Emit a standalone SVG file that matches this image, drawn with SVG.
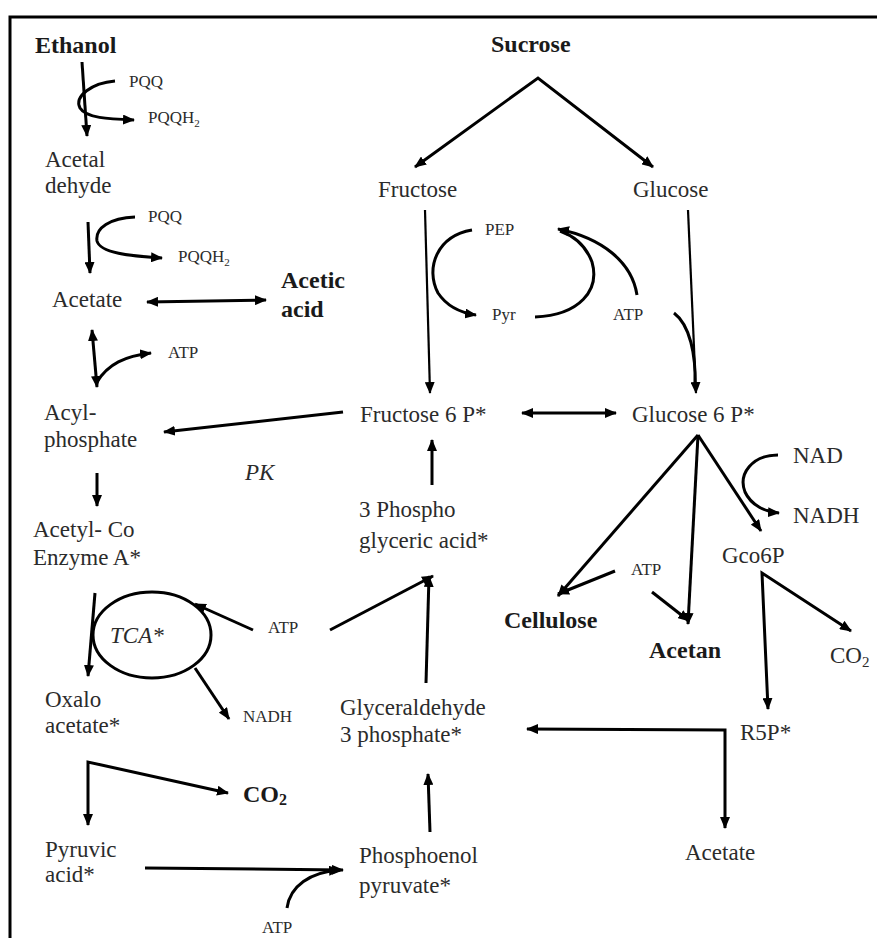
<svg xmlns="http://www.w3.org/2000/svg" width="877" height="938" viewBox="0 0 877 938">
<style>
text{font-family:"Liberation Serif","Times New Roman","DejaVu Serif",serif;fill:#2b2b2b}
.m{font-size:23px}
.b{font-size:24px;font-weight:bold;fill:#1a1a1a}
.s{font-size:17px}
.i{font-style:italic}
.c path,.c line,.c polyline{fill:none;stroke:#000;stroke-width:3}
.c .t{stroke-width:2.2}
.a{marker-end:url(#ah)}
.d{marker-start:url(#ah);marker-end:url(#ah)}
</style>
<defs>
<marker id="ah" viewBox="0 0 12 10" refX="11" refY="5" markerWidth="12" markerHeight="10" markerUnits="userSpaceOnUse" orient="auto-start-reverse"><path d="M0,0 L12,5 L0,10 z" fill="#000"/></marker>
</defs>
<rect width="877" height="938" fill="#fff"/>
<g id="frame" fill="none" stroke="#000" stroke-width="3"><polyline points="10,938 10,17 877,17"/></g>

<g id="n-ethanol"><text class="b" x="35" y="53">Ethanol</text></g>
<g id="n-pqq1"><text class="s" x="129" y="87">PQQ</text></g>
<g id="n-pqqh1"><text class="s" x="148" y="123">PQQH<tspan font-size="11" dy="4">2</tspan></text></g>
<g id="n-acetaldehyde"><text class="m" x="45" y="167">Acetal</text><text class="m" x="45" y="193">dehyde</text></g>
<g id="n-pqq2"><text class="s" x="148" y="222">PQQ</text></g>
<g id="n-pqqh2"><text class="s" x="178" y="262">PQQH<tspan font-size="11" dy="4">2</tspan></text></g>
<g id="n-acetate"><text class="m" x="52" y="307">Acetate</text></g>
<g id="n-aceticacid"><text class="b" x="281" y="288">Acetic</text><text class="b" x="281" y="317">acid</text></g>
<g id="n-atp1"><text class="s" x="168" y="358">ATP</text></g>
<g id="n-acylphosphate"><text class="m" x="44" y="420">Acyl-</text><text class="m" x="44" y="447">phosphate</text></g>
<g id="n-pk"><text class="m i" x="245" y="480">PK</text></g>
<g id="n-acetylcoa"><text class="m" x="33" y="537">Acetyl- Co</text><text class="m" x="33" y="565">Enzyme A*</text></g>
<g id="n-tca"><ellipse cx="152" cy="635" rx="59" ry="43" fill="none" stroke="#000" stroke-width="3"/><text class="m i" x="110" y="643">TCA*</text></g>
<g id="n-atp4"><text class="s" x="268" y="633">ATP</text></g>
<g id="n-oxalo"><text class="m" x="45" y="707">Oxalo</text><text class="m" x="45" y="733">acetate*</text></g>
<g id="n-nadh-left"><text class="s" x="243" y="722">NADH</text></g>
<g id="n-co2-left"><text class="b" x="243" y="802">CO<tspan font-size="16" dy="3">2</tspan></text></g>
<g id="n-pyruvic"><text class="m" x="45" y="857">Pyruvic</text><text class="m" x="45" y="882">acid*</text></g>
<g id="n-atp-bottom"><text class="s" x="262" y="933">ATP</text></g>

<g id="n-sucrose"><text class="b" x="491" y="52">Sucrose</text></g>
<g id="n-fructose"><text class="m" x="378" y="197">Fructose</text></g>
<g id="n-glucose"><text class="m" x="633" y="197">Glucose</text></g>
<g id="n-pep"><text class="s" x="485" y="235">PEP</text></g>
<g id="n-pyr"><text class="s" x="492" y="320">Pyr</text></g>
<g id="n-atp2"><text class="s" x="613" y="320">ATP</text></g>
<g id="n-f6p"><text class="m" x="360" y="422">Fructose 6 P*</text></g>
<g id="n-g6p"><text class="m" x="632" y="422">Glucose 6 P*</text></g>
<g id="n-nad"><text class="m" x="793" y="463">NAD</text></g>
<g id="n-nadh-right"><text class="m" x="793" y="523">NADH</text></g>
<g id="n-3pga"><text class="m" x="359" y="517">3 Phospho</text><text class="m" x="359" y="548">glyceric acid*</text></g>
<g id="n-gco6p"><text class="m" x="722" y="563">Gco6P</text></g>
<g id="n-atp3"><text class="s" x="631" y="575">ATP</text></g>
<g id="n-cellulose"><text class="b" x="504" y="628">Cellulose</text></g>
<g id="n-acetan"><text class="b" x="649" y="658">Acetan</text></g>
<g id="n-co2-right"><text class="m" x="830" y="663">CO<tspan font-size="15" dy="4">2</tspan></text></g>
<g id="n-g3p"><text class="m" x="340" y="715">Glyceraldehyde</text><text class="m" x="340" y="742">3 phosphate*</text></g>
<g id="n-r5p"><text class="m" x="740" y="740">R5P*</text></g>
<g id="n-acetate-right"><text class="m" x="685" y="860">Acetate</text></g>
<g id="n-pep2"><text class="m" x="359" y="863">Phosphoenol</text><text class="m" x="359" y="893">pyruvate*</text></g>

<g id="connectors" class="c">
<line class="a" x1="82" y1="62" x2="87" y2="136"/>
<path class="a" d="M115,81 C92,83 74,96 80,108 C86,118 108,119 134,120"/>
<line class="a" x1="88" y1="222" x2="90" y2="273"/>
<path class="a" d="M135,217 C110,218 95,228 97,241 C100,253 130,256 162,258"/>
<line class="d" x1="147" y1="302" x2="266" y2="300"/>
<line class="d" x1="92" y1="330" x2="97" y2="387"/>
<path class="a" d="M97,382 C108,364 125,356 151,353"/>
<line class="a" x1="343" y1="412" x2="164" y2="432"/>
<line class="a" x1="97" y1="473" x2="97" y2="506"/>
<line class="a" x1="95" y1="593" x2="88" y2="676"/>
<line class="a" x1="253" y1="630" x2="195" y2="604"/>
<line class="a" x1="195" y1="668" x2="229" y2="719"/>
<line class="a" x1="330" y1="630" x2="433" y2="576"/>
<polyline class="d" points="88,825 88,762 228,793"/>
<line class="a" x1="145" y1="868" x2="343" y2="870"/>
<path class="a" d="M287,908 C290,886 310,872 340,870"/>

<polyline class="d" points="415,167 538,78 653,167"/>
<line class="a t" x1="425" y1="210" x2="430" y2="393"/>
<line class="a t" x1="688" y1="210" x2="696" y2="393"/>
<path d="M674,313 C690,325 696,355 695,385"/>
<path class="a" d="M472,230 C437,236 425,268 438,293 C448,308 462,313 476,315"/>
<path d="M535,317 C580,315 600,290 592,262 C586,246 574,236 560,231"/>
<path class="a" d="M637,295 C632,262 602,238 558,229"/>
<line class="d" x1="522" y1="413" x2="616" y2="413"/>
<line class="a" x1="432" y1="485" x2="432" y2="440"/>
<line class="a" x1="426" y1="683" x2="429" y2="576"/>
<line class="a" x1="430" y1="832" x2="428" y2="774"/>
<line class="a" x1="698" y1="435" x2="558" y2="596"/>
<line class="a" x1="698" y1="435" x2="688" y2="624"/>
<line class="a" x1="698" y1="435" x2="761" y2="531"/>
<line class="a" x1="615" y1="571" x2="558" y2="594"/>
<line class="a" x1="652" y1="592" x2="689" y2="621"/>
<path class="a" d="M778,455 C752,455 738,474 745,492 C751,505 765,512 779,513"/>
<polyline class="d" points="768,709 762,573 851,631"/>
<polyline class="d" points="527,729 725,730 725,828"/>
</g>
</svg>
